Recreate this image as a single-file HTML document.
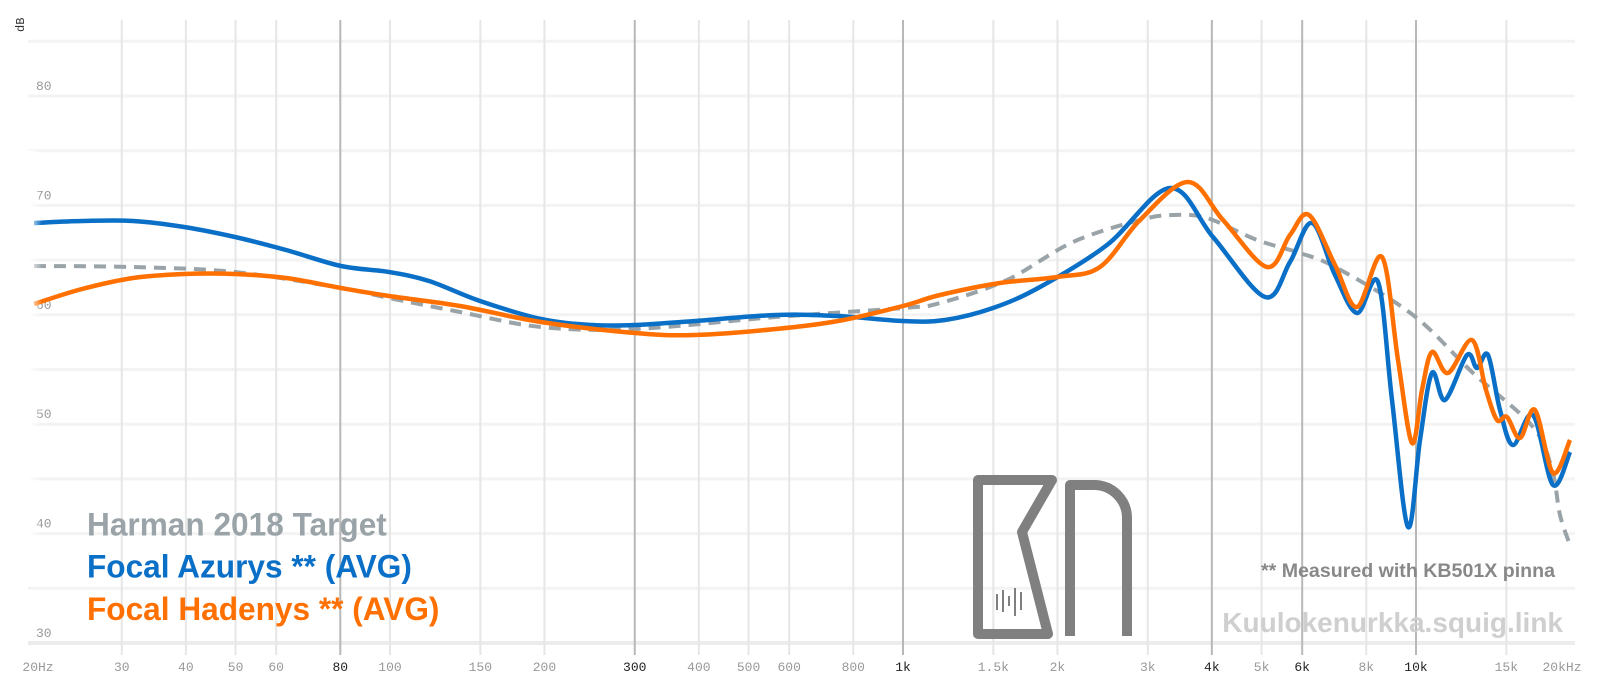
<!DOCTYPE html>
<html><head><meta charset="utf-8"><style>
html,body{margin:0;padding:0;background:#fff;}
svg{display:block;}
</style></head><body>
<svg id="s" width="1600" height="692" xmlns="http://www.w3.org/2000/svg">
<defs>
<linearGradient id="fb" x1="0" x2="1"><stop offset="0" stop-color="#fff" stop-opacity="1"/><stop offset="1" stop-color="#fff" stop-opacity="0"/></linearGradient>
</defs>
<g id="grid"></g>
<g id="logo" fill="none" stroke="#808080" stroke-width="10" stroke-linejoin="round">
<path d="M978,480 H1052 L1022,532 L1048,634 H978 Z"/>
<path d="M1070,636 V485 H1094 A33 33 0 0 1 1127 518 V636"/>
<g stroke-width="2"><line x1="997" y1="594" x2="997" y2="610"/><line x1="1003" y1="590" x2="1003" y2="612"/><line x1="1009" y1="596" x2="1009" y2="606"/><line x1="1015" y1="588" x2="1015" y2="616"/><line x1="1021" y1="592" x2="1021" y2="610"/></g>
</g>
<g id="curves"></g>
<rect x="28" y="150" width="14" height="400" fill="url(#fb)"/>
<text x="18" y="38" transform="rotate(-90 18 32)" font-family="Liberation Mono, monospace" font-size="12" fill="#333">dB</text>
<g font-family="Liberation Sans, Arial, sans-serif" font-weight="bold" font-size="31" transform="translate(87 0) scale(1.02 1.06) translate(-87 0)">
<text x="87" y="505" fill="#9aa3a8">Harman 2018 Target</text>
<text x="87" y="545" fill="#0a6fc6">Focal Azurys ** (AVG)</text>
<text x="87" y="585" fill="#ff7000">Focal Hadenys ** (AVG)</text>
</g>
<text x="1555" y="577" text-anchor="end" font-family="Liberation Sans, Arial, sans-serif" font-weight="bold" font-size="19.6" fill="#888">** Measured with KB501X pinna</text>
<text x="1563" y="632" text-anchor="end" font-family="Liberation Sans, Arial, sans-serif" font-weight="bold" font-size="28" fill="#cfcfcf">Kuulokenurkka.squig.link</text>
</svg>
<script>
var NS="http://www.w3.org/2000/svg";
function X(f){return 903+(Math.log10(f)-3)*513;}
function Y(d){return 96+(80-d)*10.94;}
function el(p,t,a,txt){var e=document.createElementNS(NS,t);for(var k in a)e.setAttribute(k,a[k]);if(txt)e.textContent=txt;p.appendChild(e);return e;}
var g=document.getElementById('grid');
for(var d=85;d>=30;d-=5){el(g,'line',{x1:28,x2:1575,y1:Y(d),y2:Y(d),stroke:d==30?'#ececec':'#f3f3f3','stroke-width':d==30?4:3});}
var fr=[[30,'30'],[40,'40'],[50,'50'],[60,'60'],[80,'80',1],[100,'100'],[150,'150'],[200,'200'],[300,'300',1],[400,'400'],[500,'500'],[600,'600'],[800,'800'],[1000,'1k',1],[1500,'1.5k'],[2000,'2k'],[3000,'3k'],[4000,'4k',1],[5000,'5k'],[6000,'6k',1],[8000,'8k'],[10000,'10k',1],[15000,'15k']];
fr.forEach(function(a){var x=X(a[0]);el(g,'line',{x1:x,x2:x,y1:20,y2:655,stroke:a[2]?'#b8b8b8':'#e6e6e6','stroke-width':2});
el(g,'text',{x:x,y:671,'text-anchor':'middle','font-family':'Liberation Mono, monospace','font-size':13,fill:a[2]?'#222':'#999'},a[1]);});
el(g,'text',{x:38,y:671,'text-anchor':'middle','font-family':'Liberation Mono, monospace','font-size':13,fill:'#999'},'20Hz');
el(g,'text',{x:1562,y:671,'text-anchor':'middle','font-family':'Liberation Mono, monospace','font-size':13,fill:'#999'},'20kHz');
[80,70,60,50,40,30].forEach(function(d){el(g,'text',{x:36,y:Y(d)-6,'font-family':'Liberation Mono, monospace','font-size':13,fill:'#999'},''+d);});
function smooth(p){var s='M'+p[0][0]+','+p[0][1];for(var i=0;i<p.length-1;i++){var p0=p[i-1]||p[i],p1=p[i],p2=p[i+1],p3=p[i+2]||p2;
var c1x=p1[0]+(p2[0]-p0[0])/6,c1y=p1[1]+(p2[1]-p0[1])/6,c2x=p2[0]-(p3[0]-p1[0])/6,c2y=p2[1]-(p3[1]-p1[1])/6;
s+=' C'+c1x.toFixed(1)+','+c1y.toFixed(1)+' '+c2x.toFixed(1)+','+c2y.toFixed(1)+' '+p2[0]+','+p2[1];}return s;}
var c=document.getElementById('curves');
var tgt=[[34,266],[133,267],[235,272],[341,288],[389,298],[460,312],[541,327],[635,329],[776,317],[903,308],[940,303],[1007,280],[1073,242],[1140,220],[1173,215],[1207,218],[1257,240],[1300,253],[1337,268],[1413,315],[1473,373],[1533,427],[1552,470],[1560,515],[1570,545]];
var blue=[[34,223],[82,221],[133,221],[184,227],[235,237],[286,250],[341,266],[389,272],[429,281],[480,301],[541,319],[592,325],[635,325],[695,321],[776,315],[838,316],[903,321],[945,320],[993,308],[1040,287],[1107,245],[1170,188],[1213,237],[1265,297],[1290,262],[1312,223],[1335,275],[1357,313],[1378,282],[1392,400],[1408,527],[1420,440],[1432,373],[1445,400],[1467,355],[1477,368],[1488,355],[1500,410],[1513,445],[1533,415],[1553,485],[1570,452]];
var orng=[[34,304],[82,289],[133,278],[184,274],[235,274],[286,278],[341,288],[389,296],[460,306],[541,322],[635,333],[695,335],[776,329],[838,321],[903,306],[940,295],[1000,283],[1057,277],[1100,267],[1140,220],[1188,182],[1223,220],[1267,267],[1290,235],[1309,215],[1335,265],[1357,307],[1382,257],[1398,360],[1412,443],[1422,390],[1432,352],[1448,373],[1472,340],[1486,390],[1497,420],[1507,417],[1520,438],[1535,410],[1553,473],[1570,440]];
el(c,'path',{d:smooth(tgt),fill:'none',stroke:'#99a3a8','stroke-width':4,'stroke-dasharray':'12 8'});
el(c,'path',{d:smooth(blue),fill:'none',stroke:'#0a6fc6','stroke-width':4.5,'stroke-linejoin':'round'});
el(c,'path',{d:smooth(orng),fill:'none',stroke:'#ff7000','stroke-width':4.5,'stroke-linejoin':'round'});
</script>
</body></html>
